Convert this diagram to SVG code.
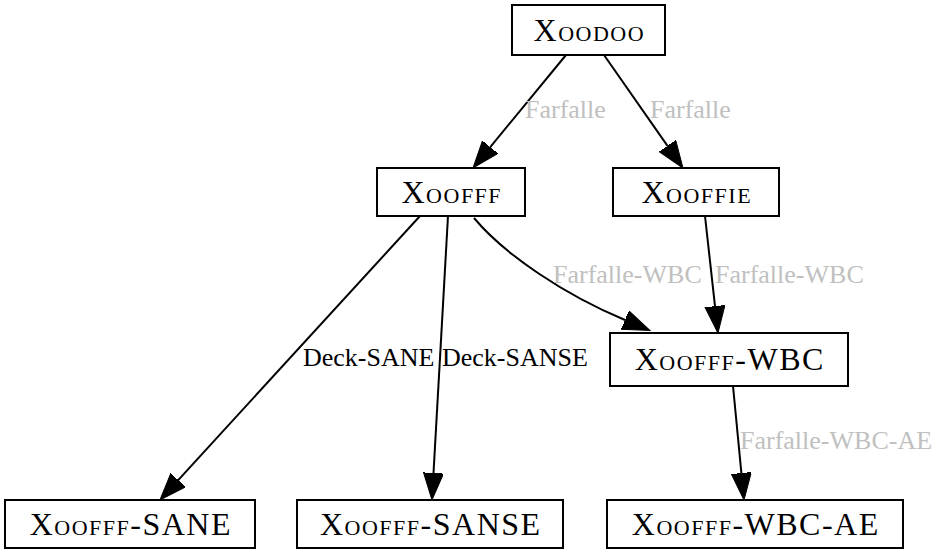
<svg xmlns="http://www.w3.org/2000/svg" width="935" height="557" viewBox="0 0 935 557">
<style>
.node rect{fill:#fff;stroke:#000;stroke-width:2}
.node text{font-size:32px;font-variant:small-caps;letter-spacing:1.5px;text-anchor:middle;fill:#000}
.edge path{fill:none;stroke:#000;stroke-width:2;marker-end:url(#ah)}
.lbl{font-size:26px}
.gray{fill:#c0c0c0}
.blk{fill:#000}
</style>
<defs>
<marker id="ah" markerUnits="userSpaceOnUse" markerWidth="28" markerHeight="22" refX="0" refY="10" orient="auto">
<path d="M0,0 L27,10 L0,20 z" fill="#000" stroke="#000" stroke-width="1"/>
</marker>
</defs>
<g id="connectors" class="edge">
<path d="M566,55 L490.2,147.1"/>
<path d="M604,55 L667.5,145.9"/>
<path d="M474,218 C505,255 565,295 625,320"/>
<path d="M705,216 L715,306.2"/>
<path d="M420,216 L178.2,480.1"/>
<path d="M448,216 L433.5,473"/>
<path d="M733,386 L741.4,473.1"/>
<text class="lbl gray" font-family="Liberation Serif" x="525" y="118">Farfalle</text>
<text class="lbl gray" font-family="Liberation Serif" x="650" y="118">Farfalle</text>
<text class="lbl gray" font-family="Liberation Serif" x="553" y="283">Farfalle-WBC</text>
<text class="lbl gray" font-family="Liberation Serif" x="715" y="283">Farfalle-WBC</text>
<text class="lbl blk" font-family="Liberation Serif" x="303" y="366">Deck-SANE</text>
<text class="lbl blk" font-family="Liberation Serif" x="442" y="366">Deck-SANSE</text>
<text class="lbl gray" font-family="Liberation Serif" x="740" y="449">Farfalle-WBC-AE</text>
</g>
<g id="n-xoodoo" class="node"><rect x="512" y="5" width="153" height="50"/><text font-family="Liberation Serif" x="589.3" y="41">Xoodoo</text></g>
<g id="n-xoofff" class="node"><rect x="377" y="168" width="148" height="48"/><text font-family="Liberation Serif" x="451.8" y="203">Xoofff</text></g>
<g id="n-xooffie" class="node"><rect x="613" y="168" width="166" height="48"/><text font-family="Liberation Serif" x="696.8" y="203">Xooffie</text></g>
<g id="n-xoofff-wbc" class="node"><rect x="610" y="333" width="238" height="53"/><text font-family="Liberation Serif" x="729.8" y="370">Xoofff-WBC</text></g>
<g id="n-xoofff-sane" class="node"><rect x="5" y="500" width="250" height="48"/><text font-family="Liberation Serif" x="130.8" y="535">Xoofff-SANE</text></g>
<g id="n-xoofff-sanse" class="node"><rect x="297" y="500" width="266" height="48"/><text font-family="Liberation Serif" x="430.8" y="535">Xoofff-SANSE</text></g>
<g id="n-xoofff-wbc-ae" class="node"><rect x="607" y="500" width="296" height="48"/><text font-family="Liberation Serif" x="755.8" y="535">Xoofff-WBC-AE</text></g>
</svg>
